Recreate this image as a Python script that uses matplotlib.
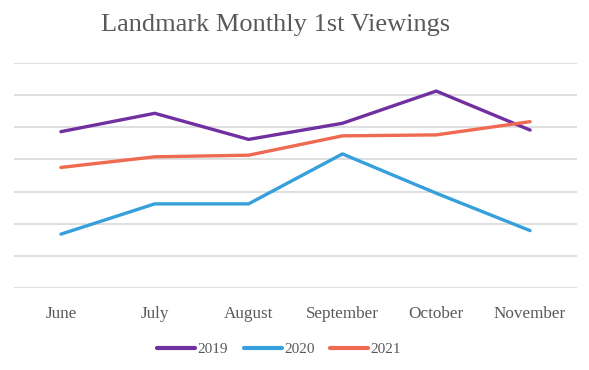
import matplotlib
matplotlib.use("Agg")
import matplotlib.pyplot as plt

months = ["June", "July", "August", "September", "October", "November"]
series_names = ["2019", "2020", "2021"]
v2019 = [48.6, 54.3, 46.2, 51.2, 61.2, 49.1]
v2020 = [16.8, 26.2, 26.2, 41.7, 29.5, 17.9]
v2021 = [37.5, 40.8, 41.3, 47.3, 47.6, 51.7]
colors = ["#7030A0", "#35A0DC", "#EE6A50"]
y_ticks = [0, 10, 20, 30, 40, 50, 60, 70]

W, H = 589, 370
fig = plt.figure(figsize=(W / 100, H / 100), dpi=100)
ax = fig.add_axes([14 / W, 1 - 288.3 / H, (577 - 14) / W, (288.3 - 62.7) / H])

x = list(range(len(months)))
for vals, name, c in zip([v2019, v2020, v2021], series_names, colors):
    ax.plot(x, vals, color=c, lw=2.4, label=name, solid_capstyle="round",
            solid_joinstyle="round")

ax.set_xlim(-0.5, len(months) - 0.5)
ax.set_ylim(y_ticks[0], y_ticks[-1])
ax.set_yticks(y_ticks)
ax.set_yticklabels([])
ax.tick_params(axis="y", length=0)
ax.tick_params(axis="x", length=0, pad=13)
ax.grid(axis="y", color="#D9D9D9", lw=1.2)
ax.set_axisbelow(True)
for s in ax.spines.values():
    s.set_visible(False)
ax.set_xticks(x)
ax.set_xticklabels(months, family="Liberation Serif", fontsize=12.3, color="#595959")

fig.text(276 / W, 1 - 25 / H, "Landmark Monthly 1st Viewings", ha="center", va="center",
         family="Liberation Serif", fontsize=19, color="#595959")

leg = fig.legend(loc="center", bbox_to_anchor=(279 / W, 1 - 349 / H), ncol=3,
                 frameon=False, prop={"family": "Liberation Serif", "size": 11},
                 handlelength=2.5, handletextpad=0.15, columnspacing=1.0)
for t in leg.get_texts():
    t.set_color("#595959")
for l in leg.get_lines():
    l.set_linewidth(3)

fig.savefig("out.png", dpi=100)
